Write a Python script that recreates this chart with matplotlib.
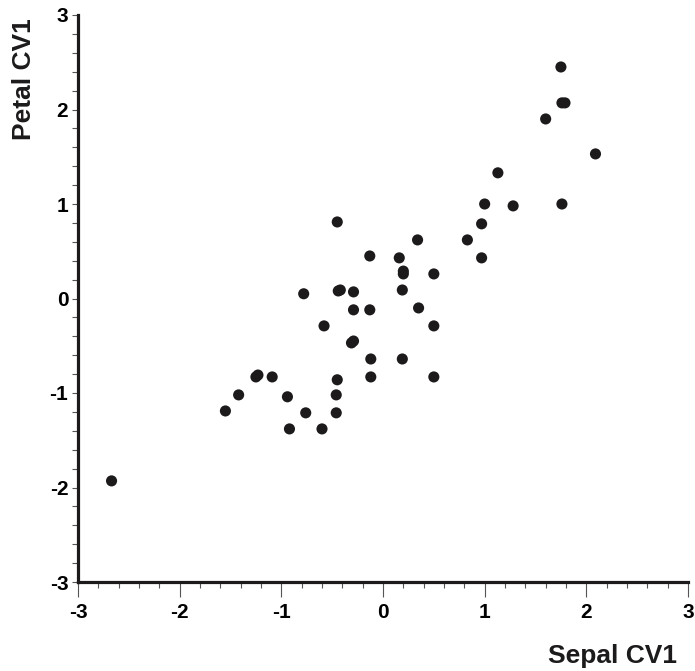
import matplotlib
matplotlib.use("Agg")
import matplotlib.pyplot as plt
from matplotlib.ticker import MultipleLocator, AutoMinorLocator

plt.rcParams["font.family"] = ["Liberation Sans", "DejaVu Sans"]
plt.rcParams["axes.unicode_minus"] = False

# canonical variates
sepal_cv1 = [1.75, 1.76, 1.79, 1.60, 2.09, 1.13, 1.00, 1.28, 1.76, -0.45,
             0.97, 0.34, 0.83, -0.13, 0.16, 0.97, 0.20, 0.20, 0.50, -0.44,
             -0.42, -0.78, -0.29, 0.19, -0.29, -0.13, 0.35, -0.58, 0.50, -0.31,
             -0.29, -0.12, 0.19, -0.45, -0.12, 0.50, -1.09, -1.25, -1.23, -1.42,
             -0.94, -0.46, -1.55, -0.76, -0.46, -0.92, -0.60, -2.67]
petal_cv1 = [2.45, 2.07, 2.07, 1.90, 1.53, 1.33, 1.00, 0.98, 1.00, 0.81,
             0.79, 0.62, 0.62, 0.45, 0.43, 0.43, 0.29, 0.26, 0.26, 0.08,
             0.09, 0.05, 0.07, 0.09, -0.12, -0.12, -0.10, -0.29, -0.29, -0.47,
             -0.45, -0.64, -0.64, -0.86, -0.83, -0.83, -0.83, -0.83, -0.81, -1.02,
             -1.04, -1.02, -1.19, -1.21, -1.21, -1.38, -1.38, -1.93]

fig = plt.figure(figsize=(6.95, 6.71), dpi=100)
ax = fig.add_axes([78 / 695, 89 / 671, 610 / 695, 567 / 671])

ax.scatter(sepal_cv1, petal_cv1, s=64, color="#1c1a1b", edgecolors="none", zorder=3)

ax.set_xlim(-3, 3)
ax.set_ylim(-3, 3)
for side in ["top", "right"]:
    ax.spines[side].set_visible(False)
for side in ["left", "bottom"]:
    ax.spines[side].set_linewidth(2.3)
    ax.spines[side].set_color("#1c1a1b")

ax.xaxis.set_major_locator(MultipleLocator(1))
ax.yaxis.set_major_locator(MultipleLocator(1))
ax.xaxis.set_minor_locator(AutoMinorLocator(5))
ax.yaxis.set_minor_locator(AutoMinorLocator(5))

ax.tick_params(axis="x", which="major", direction="out", length=11, width=0.8,
               color="#555555", pad=4, labelsize=15)
ax.tick_params(axis="x", which="minor", direction="out", length=4, width=0.8,
               color="#555555")
ax.tick_params(axis="y", which="both", direction="out", length=4, width=0.8,
               color="#555555", pad=3, labelsize=15)
for lbl in ax.get_xticklabels() + ax.get_yticklabels():
    lbl.set_fontweight("bold")

fig.text(677 / 695, 1 - 663 / 671, "Sepal CV1", ha="right", va="baseline",
         fontsize=19, fontweight="bold", color="#1c1a1b")
fig.text(24 / 695, 1 - 18 / 671, "Petal CV1", ha="center", va="top",
         rotation=90, fontsize=19, fontweight="bold", color="#1c1a1b")

fig.savefig("out.png", dpi=100)
